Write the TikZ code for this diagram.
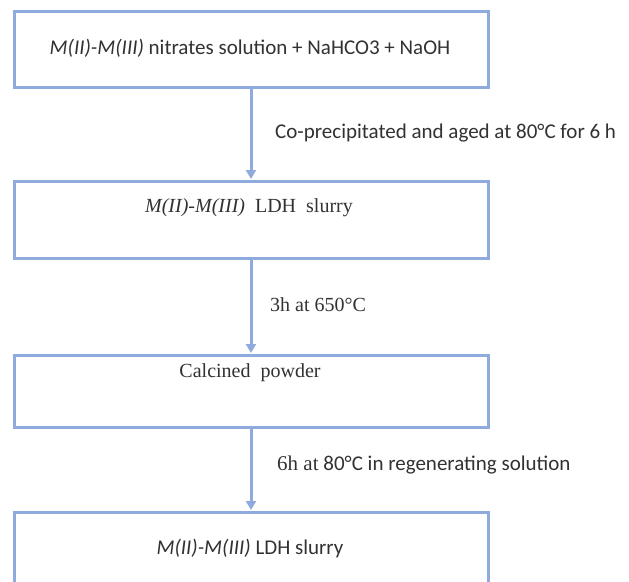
\documentclass[tikz,border=0pt]{standalone}
\usepackage{fontspec}
\setmainfont{Liberation Serif}
\newfontfamily\calfnt{Carlito}
\newfontfamily\tmsfnt{Liberation Serif}
\usetikzlibrary{arrows.meta}
\definecolor{boxblue}{RGB}{143,170,220}
\definecolor{txt}{RGB}{50,50,50}
\tikzset{
  stepbox/.style={draw=boxblue, line width=3pt, minimum width=474pt, inner sep=0pt},
  flow/.style={draw=boxblue, line width=3pt, -{Triangle[width=10pt,length=9pt]}, shorten >=0.5pt},
  caltext/.style={text=txt, font=\calfnt\fontsize{21}{25}\selectfont, inner sep=0pt},
  tmstext/.style={text=txt, font=\tmsfnt\fontsize{20}{24}\selectfont, inner sep=0pt},
}
\begin{document}
\begin{tikzpicture}[x=1pt,y=-1pt]
\useasboundingbox (0,0) rectangle (629,581);
\clip (0,0) rectangle (629,581);
\fill[white] (0,0) rectangle (629,581);
\node[stepbox, minimum height=76pt] (b1) at (251,49) {};
\node[stepbox, minimum height=77pt] (b2) at (251,219.5) {};
\node[stepbox, minimum height=72pt] (b3) at (251,391) {};
\node[stepbox, minimum height=90pt] (b4) at (251,557) {};
\node[caltext] (t1) at (250,48) {\textit{M(II)-M(III)} nitrates solution + NaHCO3 + NaOH};
\node[tmstext] (t2) at (249,208) {\textit{M(II)-M(III)}\enspace LDH\enspace slurry};
\node[tmstext] (t3) at (250,373) {Calcined\enspace powder};
\node[caltext] (t4) at (250,549) {\textit{M(II)-M(III)} LDH slurry};
\draw[flow] (b1.south) -- (b2.north);
\draw[flow] (b2.south) -- (b3.north);
\draw[flow] (b3.south) -- (b4.north);
\node[caltext, anchor=west] (l1) at (275,133) {Co-precipitated and aged at 80°C for 6 h};
\node[tmstext, anchor=west] (l2) at (270,305) {3h at 650°C};
\node[caltext, anchor=west] (l3) at (277,465) {{\tmsfnt 6h at} 80°C in regenerating solution};
\end{tikzpicture}
\end{document}
